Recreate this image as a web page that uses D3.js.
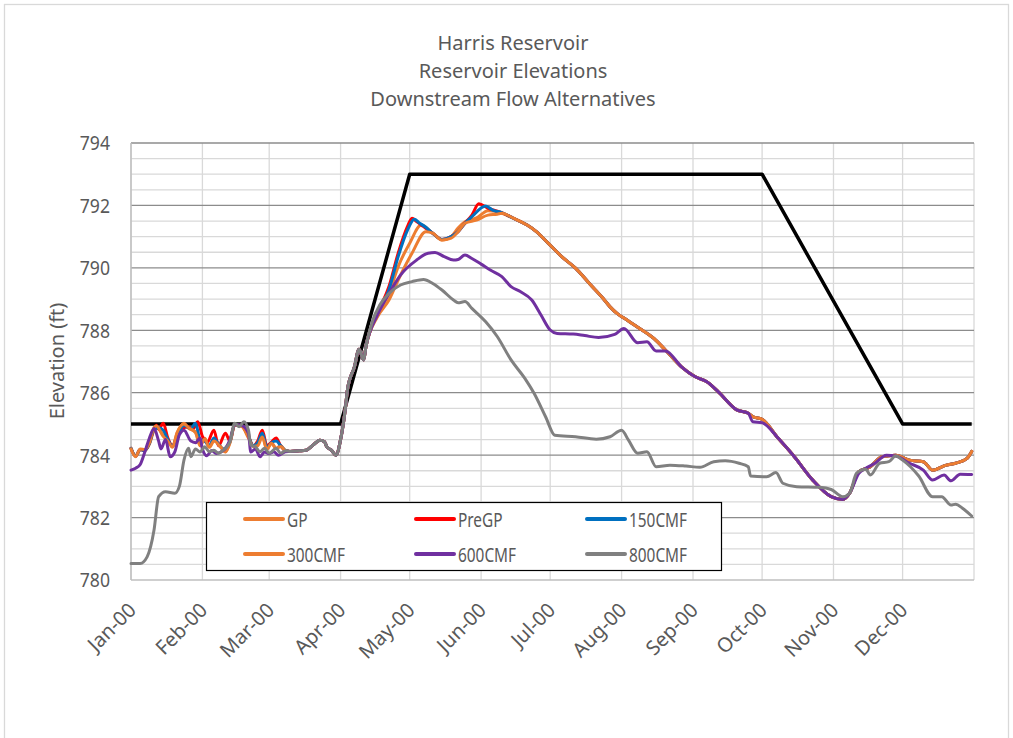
<!DOCTYPE html>
<html><head><meta charset="utf-8">
<script src="https://cdn.jsdelivr.net/npm/d3@7"></script>
<style>
body{margin:0;background:#fff}
svg{display:block}
text{font-family:"Segoe UI","Noto Sans","Open Sans",sans-serif}
</style>
</head><body><svg id="c" width="1013" height="738"></svg>
<script>
// ---------------- DATA ----------------
const titleLines = ["Harris Reservoir", "Reservoir Elevations", "Downstream Flow Alternatives"];
const yLabel = "Elevation (ft)";
const yTicks = [780, 782, 784, 786, 788, 790, 792, 794];
const seriesNames = ["GP", "PreGP", "150CMF", "300CMF", "600CMF", "800CMF"];

const guideCurve = [["1/1",785],["4/1",785],["5/1",793],["10/1",793],["12/1",785],["12/31",785]];

// segment shared by all alternatives (late March, start of refill)
const marchCommon = [["3/10",784.12],["3/14",784.14],["3/17",784.16],["3/20",784.32],["3/23",784.48],["3/25",784.43],["3/26",784.27],["3/28",784.16],["3/30",784.0],["4/1",784.5],["4/3",785.45],["4/4",786.1],["4/7",786.83],["4/9",787.39],["4/11",787.05],["4/12",787.47]];

// segment shared by GP, PreGP, 150CMF, 300CMF after mid June
const summerTail = [["6/15",791.59],["6/21",791.37],["6/25",791.16],["6/30",790.8],["7/6",790.36],["7/12",789.99],["7/18",789.5],["7/24",789.02],["7/27",788.75],["7/30",788.54],["8/2",788.39],["8/8",788.1],["8/15",787.74],["8/20",787.37],["8/27",786.83],["9/2",786.51],["9/7",786.35],["9/12",786.03],["9/20",785.45],["9/25",785.34],["9/27",785.23],["10/1",785.15],["10/8",784.54],["10/15",783.95],["10/23",783.2],["10/31",782.67],["11/5",782.58],["11/8",782.78],["11/12",783.47],["11/17",783.63],["11/22",783.95],["11/28",784.0],["12/4",783.84],["12/10",783.79],["12/14",783.52],["12/20",783.68],["12/24",783.74],["12/29",783.9],["12/31",784.12]];

const gpWinter = [["1/1",784.22],["1/3",783.97],["1/5",784.18],["1/7",784.15],["1/9",784.35],["1/11",784.8],["1/12",784.91],["1/15",784.64],["1/17",784.48],["1/19",784.27],["1/21",784.7],["1/24",785.02],["1/26",784.86],["1/29",784.75],["1/31",784.32],["2/2",784.54],["2/4",784.27],["2/6",784.48],["2/9",784.27],["2/11",784.11],["2/13",784.43],["2/15",784.97],["2/18",784.93],["2/21",784.6],["2/23",784.3],["2/25",784.35],["2/27",784.62],["2/29",784.2],["3/2",784.4],["3/4",784.22],["3/6",784.3],["3/8",784.15]];
const gpSpring = [["4/17",788.49],["4/22",789.18],["4/26",790.04],["5/1",790.79],["5/6",791.37],["5/11",791.11],["5/15",790.89],["5/19",791.0],["5/22",791.28],["5/25",791.48],["5/30",791.6],["6/4",791.83],["6/10",791.75]];

const preWinter = [["1/1",784.22],["1/3",783.97],["1/5",784.18],["1/7",784.15],["1/9",784.4],["1/11",784.85],["1/12",784.96],["1/13",784.82],["1/15",785.02],["1/17",784.55],["1/19",784.3],["1/21",784.6],["1/23",784.85],["1/26",784.9],["1/28",784.85],["1/30",785.07],["2/1",784.6],["2/3",784.4],["2/6",784.8],["2/8",784.3],["2/11",784.7],["2/13",784.45],["2/15",784.97],["2/18",784.95],["2/21",784.6],["2/23",784.3],["2/25",784.45],["2/27",784.8],["2/29",784.3],["3/2",784.42],["3/4",784.55],["3/6",784.3],["3/8",784.15]];
const preSpring = [["4/17",788.54],["4/22",789.4],["4/26",790.47],["4/30",791.32],["5/2",791.59],["5/4",791.48],["5/7",791.32],["5/11",791.11],["5/15",790.91],["5/19",791.0],["5/22",791.16],["5/25",791.43],["5/28",791.69],["5/31",792.05],["6/4",791.91],["6/10",791.77]];

const c150Winter = [["1/1",784.22],["1/3",783.97],["1/5",784.18],["1/7",784.15],["1/9",784.38],["1/11",784.82],["1/13",784.88],["1/15",784.8],["1/17",784.5],["1/19",784.28],["1/21",784.62],["1/24",784.95],["1/27",784.85],["1/29",785.02],["1/31",784.5],["2/2",784.45],["2/4",784.3],["2/6",784.55],["2/8",784.35],["2/10",784.2],["2/13",784.43],["2/15",784.97],["2/18",784.94],["2/21",784.6],["2/23",784.3],["2/25",784.4],["2/27",784.7],["2/29",784.25],["3/2",784.4],["3/4",784.45],["3/6",784.3],["3/8",784.15]];
const c150Spring = [["4/17",788.5],["4/22",789.3],["4/26",790.36],["4/30",791.2],["5/3",791.56],["5/5",791.45],["5/8",791.3],["5/11",791.11],["5/15",790.91],["5/19",791.0],["5/22",791.16],["5/25",791.43],["5/28",791.64],["6/3",791.98],["6/6",791.85],["6/10",791.77]];

const c300Winter = [["1/1",784.2],["1/3",783.95],["1/5",784.2],["1/7",784.18],["1/9",784.4],["1/11",784.88],["1/12",784.93],["1/15",784.6],["1/17",784.45],["1/19",784.25],["1/21",784.72],["1/24",785.0],["1/26",784.88],["1/29",784.72],["1/31",784.3],["2/2",784.52],["2/4",784.25],["2/6",784.45],["2/9",784.25],["2/11",784.1],["2/13",784.4],["2/15",784.96],["2/18",784.92],["2/21",784.55],["2/23",784.28],["2/25",784.3],["2/27",784.58],["2/29",784.18],["3/2",784.38],["3/4",784.2],["3/6",784.28],["3/8",784.14]];
const c300Spring = [["4/17",788.43],["4/22",788.97],["4/26",789.61],["5/2",790.47],["5/8",791.16],["5/11",791.11],["5/15",790.89],["5/19",790.95],["5/22",791.16],["5/25",791.43],["5/30",791.53],["6/4",791.69],["6/8",791.72],["6/10",791.75]];

const c600Winter = [["1/1",783.52],["1/3",783.58],["1/5",783.7],["1/7",784.1],["1/9",784.55],["1/11",784.85],["1/13",784.45],["1/14",784.2],["1/16",784.5],["1/18",783.95],["1/20",784.1],["1/22",784.65],["1/24",784.8],["1/27",784.45],["1/29",784.4],["1/31",784.55],["2/1",784.2],["2/3",783.98],["2/5",784.15],["2/7",784.05],["2/9",784.1],["2/11",784.22],["2/13",784.5],["2/15",784.97],["2/18",784.95],["2/21",784.7],["2/22",784.1],["2/24",784.2],["2/26",783.95],["2/28",784.1],["3/1",784.05],["3/3",784.11],["3/5",784.0],["3/8",784.11]];
const c600Rest = [["4/17",788.49],["4/22",789.18],["4/27",789.77],["5/4",790.25],["5/9",790.47],["5/12",790.49],["5/16",790.36],["5/20",790.25],["5/22",790.27],["5/25",790.41],["5/28",790.3],["6/1",790.12],["6/5",789.93],["6/10",789.72],["6/14",789.4],["6/18",789.24],["6/23",788.97],["6/27",788.49],["7/1",788.01],["7/4",787.9],["7/11",787.88],["7/16",787.83],["7/22",787.77],["7/29",787.87],["8/2",788.06],["8/8",787.6],["8/12",787.63],["8/16",787.34],["8/20",787.34],["8/27",786.83],["9/2",786.51],["9/7",786.35],["9/12",786.03],["9/20",785.45],["9/25",785.34],["9/27",785.07],["10/1",785.04],["10/8",784.54],["10/15",783.95],["10/23",783.2],["10/31",782.67],["11/5",782.58],["11/8",782.78],["11/12",783.42],["11/15",783.58],["11/19",783.74],["11/24",784.0],["11/28",783.97],["12/4",783.74],["12/10",783.52],["12/14",783.2],["12/19",783.36],["12/22",783.18],["12/26",783.39],["12/31",783.38]];

const c800Winter = [["1/1",780.53],["1/5",780.53],["1/8",780.74],["1/11",781.6],["1/13",782.67],["1/16",782.83],["1/20",782.78],["1/22",783.0],["1/24",783.84],["1/26",784.22],["1/27",783.95],["1/29",784.2],["1/31",784.1],["2/2",784.27],["2/4",784.11],["2/6",784.16],["2/8",784.06],["2/10",784.16],["2/12",784.3],["2/13",784.43],["2/15",785.02],["2/17",784.91],["2/19",785.07],["2/21",784.8],["2/22",784.32],["2/24",784.27],["2/26",784.11],["2/28",784.22],["3/1",784.06],["3/4",784.22],["3/6",784.06],["3/8",784.14]];
const c800Rest = [["4/15",788.33],["4/18",788.81],["4/22",789.18],["4/27",789.45],["5/2",789.56],["5/7",789.63],["5/11",789.5],["5/15",789.29],["5/20",788.97],["5/22",788.88],["5/25",788.92],["5/28",788.7],["6/3",788.27],["6/8",787.8],["6/14",787.05],["6/20",786.46],["6/24",785.98],["6/29",785.23],["7/3",784.64],["7/12",784.59],["7/21",784.51],["7/27",784.59],["8/1",784.8],["8/4",784.48],["8/8",784.06],["8/12",784.11],["8/16",783.63],["8/22",783.68],["8/29",783.65],["9/4",783.61],["9/10",783.79],["9/15",783.82],["9/21",783.74],["9/25",783.63],["9/26",783.33],["10/3",783.31],["10/7",783.44],["10/10",783.1],["10/16",782.99],["10/26",782.97],["10/31",782.9],["11/5",782.67],["11/8",782.78],["11/11",783.42],["11/15",783.55],["11/17",783.36],["11/21",783.74],["11/25",783.79],["11/28",783.97],["12/1",783.84],["12/8",783.33],["12/14",782.67],["12/18",782.67],["12/22",782.4],["12/24",782.43],["12/27",782.3],["12/31",782.05]];

const seriesColors = ["#ED7D31", "#FF0000", "#0070C0", "#ED7D31", "#7030A0", "#808080"];

// ---------------- CHART ----------------
const svg = d3.select("#c");
const parse = s => d3.timeParse("%Y/%m/%d")("2000/" + s);
const toPts = arr => arr.map(([d, v]) => ({date: parse(d), v}));

const series = [
  gpWinter.concat(marchCommon, gpSpring, summerTail),
  preWinter.concat(marchCommon, preSpring, summerTail),
  c150Winter.concat(marchCommon, c150Spring, summerTail),
  c300Winter.concat(marchCommon, c300Spring, summerTail),
  c600Winter.concat(marchCommon, c600Rest),
  c800Winter.concat(marchCommon, c800Rest)
].map(toPts);

const L = 131, R = 974, T = 143, B = 580;
const x = d3.scaleTime().domain([new Date(2000,0,1), new Date(2001,0,1)]).range([L, R]);
const y = d3.scaleLinear().domain([780, 794]).range([B, T]);
const TXT = "#595959";

// outer chart border
svg.append("rect").attr("x",4.5).attr("y",4.5).attr("width",1004).attr("height",800)
  .attr("fill","none").attr("stroke","#d9d9d9").attr("stroke-width",1.3);

// minor horizontal gridlines
const minor = d3.range(780.5, 794, 0.5).filter(v => v % 2 !== 0);
svg.append("g").selectAll("line").data(minor).join("line")
  .attr("x1", L).attr("x2", R).attr("y1", d => y(d)).attr("y2", d => y(d))
  .attr("stroke", "#d9d9d9").attr("stroke-width", 1.3);

// vertical gridlines at month starts
const months = d3.timeMonth.range(new Date(2000,0,1), new Date(2001,0,2));
svg.append("g").selectAll("line").data(months).join("line")
  .attr("x1", d => x(d)).attr("x2", d => x(d)).attr("y1", T).attr("y2", B)
  .attr("stroke", "#d9d9d9").attr("stroke-width", 1.3);

// major horizontal gridlines
svg.append("g").selectAll("line").data(yTicks.filter(v => v > 780)).join("line")
  .attr("x1", L).attr("x2", R).attr("y1", d => y(d)).attr("y2", d => y(d))
  .attr("stroke", "#8c8c8c").attr("stroke-width", 1.3);

// axis lines
svg.append("line").attr("x1", L).attr("x2", L).attr("y1", T).attr("y2", B)
  .attr("stroke", "#bfbfbf").attr("stroke-width", 1.5);
svg.append("line").attr("x1", L).attr("x2", R).attr("y1", B).attr("y2", B)
  .attr("stroke", "#bfbfbf").attr("stroke-width", 1.5);

// y tick labels
svg.append("g").selectAll("text").data(yTicks).join("text")
  .attr("transform", d => `translate(110,${y(d)}) scale(0.88,1)`)
  .attr("text-anchor", "end")
  .attr("dominant-baseline", "central").attr("font-size", 20).attr("fill", TXT)
  .text(d => d);

// x tick labels
const fmt = d3.timeFormat("%b-%y");
svg.append("g").selectAll("text").data(months.slice(0, 12)).join("text")
  .attr("transform", d => `translate(${x(d) + 1},${606}) rotate(-45)`)
  .attr("text-anchor", "end").attr("dominant-baseline", "central")
  .attr("font-size", 20).attr("fill", TXT).text(d => fmt(d));

// titles
svg.append("g").selectAll("text").data(titleLines).join("text")
  .attr("x", 513).attr("y", (d, i) => 42 + i * 28).attr("text-anchor", "middle")
  .attr("dominant-baseline", "central").attr("font-size", 20).attr("fill", TXT)
  .text(d => d);

// y axis label
svg.append("text").attr("transform", "translate(56,361) rotate(-90)")
  .attr("text-anchor", "middle").attr("dominant-baseline", "central")
  .attr("font-size", 20).attr("fill", TXT).text(yLabel);

// guide curve
const lineLin = d3.line().x(d => x(d.date)).y(d => y(d.v));
svg.append("path").datum(toPts(guideCurve)).attr("d", lineLin)
  .attr("fill", "none").attr("stroke", "#000").attr("stroke-width", 3.5)
  .attr("stroke-linejoin", "round");

// series
const lineS = d3.line().x(d => x(d.date)).y(d => y(d.v)).curve(d3.curveMonotoneX);
series.forEach((s, i) => {
  svg.append("path").datum(s).attr("d", lineS)
    .attr("fill", "none").attr("stroke", seriesColors[i]).attr("stroke-width", 3)
    .attr("stroke-linejoin", "round").attr("stroke-linecap", "round");
});

// legend
const lg = svg.append("g");
lg.append("rect").attr("x", 206.5).attr("y", 502.5).attr("width", 515).attr("height", 68)
  .attr("fill", "#fff").attr("stroke", "#000").attr("stroke-width", 1.2);
const colX = [245, 416, 587], rowY = [519, 554];
seriesNames.forEach((n, i) => {
  const cx = colX[i % 3], cy = rowY[Math.floor(i / 3)];
  lg.append("line").attr("x1", cx).attr("x2", cx + 38).attr("y1", cy).attr("y2", cy)
    .attr("stroke", seriesColors[i]).attr("stroke-width", 4).attr("stroke-linecap", "round");
  lg.append("text").attr("transform", `translate(${cx + 42},${cy}) scale(0.77,1)`)
    .attr("dominant-baseline", "central")
    .attr("font-size", 20).attr("fill", TXT).text(n);
});
</script></body></html>
